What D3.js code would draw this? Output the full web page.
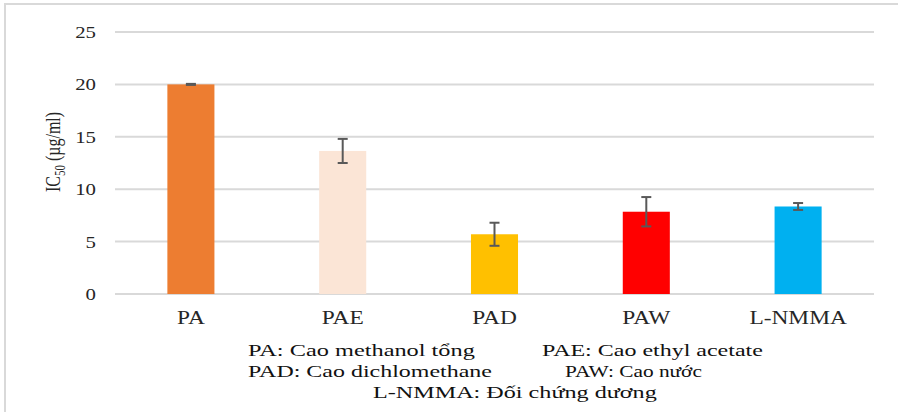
<!DOCTYPE html>
<html>
<head>
<meta charset="utf-8">
<script src="https://cdn.jsdelivr.net/npm/d3@7"></script>
<style>
  body { margin: 0; background: #fff; }
</style>
</head>
<body>
<div id="chart"></div>
<script>
// data
const categories = ["PA", "PAE", "PAD", "PAW", "L-NMMA"];
const ic50 = [20.0, 13.65, 5.7, 7.85, 8.35];
const errors = [0.05, 1.15, 1.1, 1.4, 0.33];
const barColors = ["#ed7d31", "#fbe5d6", "#ffc000", "#ff0000", "#00b0f0"];
const yTicks = [0, 5, 10, 15, 20, 25];
const legendLines = [
  ["PA: Cao methanol tổng", "PAE: Cao ethyl acetate"],
  ["PAD: Cao dichlomethane", "PAW: Cao nước"],
  ["L-NMMA:  Đối chứng dương"]
];

const width = 898, height = 412;
const plotLeft = 115, plotRight = 874, plotTop = 32, plotBottom = 294;
const stretch = 1.3;   // text in the picture is widened horizontally
const serif = "'Liberation Serif', 'Times New Roman'";

const svg = d3.select("#chart").append("svg")
  .attr("width", width)
  .attr("height", height)
  .style("font-family", serif);

// outer frame (top + left only are visible)
svg.append("path")
  .attr("d", `M5,${height} V4 H${width}`)
  .attr("fill", "none")
  .attr("stroke", "#d9d9d9")
  .attr("stroke-width", 2);

const x = d3.scaleBand()
  .domain(categories)
  .range([plotLeft, plotRight])
  .paddingInner(0.69)
  .paddingOuter(0.345);

const y = d3.scaleLinear()
  .domain([0, 25])
  .range([plotBottom, plotTop]);

// gridlines
svg.append("g")
  .selectAll("line")
  .data(yTicks)
  .join("line")
  .attr("x1", plotLeft)
  .attr("x2", plotRight)
  .attr("y1", d => y(d))
  .attr("y2", d => y(d))
  .attr("stroke", "#d9d9d9")
  .attr("stroke-width", 2);

// y tick labels
svg.append("g")
  .selectAll("text")
  .data(yTicks)
  .join("text")
  .attr("transform", d => `translate(96,${y(d) + 6}) scale(${stretch},1)`)
  .attr("text-anchor", "end")
  .attr("fill", "#262626")
  .style("font-family", serif)
  .style("font-size", "16px")
  .text(d => d);

// bars
svg.append("g")
  .selectAll("rect")
  .data(categories)
  .join("rect")
  .attr("x", d => x(d))
  .attr("width", x.bandwidth())
  .attr("y", (d, i) => y(ic50[i]))
  .attr("height", (d, i) => y(0) - y(ic50[i]))
  .attr("fill", (d, i) => barColors[i]);

// error bars
const eb = svg.append("g")
  .attr("stroke", "#595959")
  .attr("stroke-width", 2)
  .selectAll("g")
  .data(categories)
  .join("g")
  .attr("transform", d => `translate(${x(d) + x.bandwidth() / 2},0)`);

eb.append("line")
  .attr("y1", (d, i) => y(ic50[i] + errors[i]))
  .attr("y2", (d, i) => y(ic50[i] - errors[i]));
eb.append("line")
  .attr("x1", -5).attr("x2", 5)
  .attr("y1", (d, i) => y(ic50[i] + errors[i]))
  .attr("y2", (d, i) => y(ic50[i] + errors[i]));
eb.append("line")
  .attr("x1", -5).attr("x2", 5)
  .attr("y1", (d, i) => y(ic50[i] - errors[i]))
  .attr("y2", (d, i) => y(ic50[i] - errors[i]));

// category labels
svg.append("g")
  .selectAll("text")
  .data(categories)
  .join("text")
  .attr("transform", d => `translate(${x(d) + x.bandwidth() / 2},324) scale(${stretch},1)`)
  .attr("text-anchor", "middle")
  .attr("fill", "#262626")
  .style("font-family", serif)
  .style("font-size", "18px")
  .text(d => d);

// y axis title
const yt = svg.append("text")
  .attr("transform", `translate(60,152) scale(${stretch},1) rotate(-90)`)
  .attr("text-anchor", "middle")
  .attr("fill", "#262626")
  .style("font-family", serif)
  .style("font-size", "16px");
yt.append("tspan").text("IC");
yt.append("tspan").attr("dy", 4).style("font-size", "11px").text("50");
yt.append("tspan").attr("dy", -4).text(" (µg/ml)");

// legend under the chart, each piece widened to the span it has in the picture
const legendPos = [[248, 542], [248, 565], [373]];
const legendWidths = [[227, 221], [244, 137], [284]];
legendLines.forEach((line, r) => {
  line.forEach((txt, c) => {
    const t = svg.append("text")
      .attr("fill", "#111")
      .style("font-family", serif)
      .style("font-size", "17px")
      .text(txt);
    const k = legendWidths[r][c] / t.node().getComputedTextLength();
    t.attr("transform", `translate(${legendPos[r][c]},${356 + r * 21}) scale(${k},1)`);
  });
});
</script>
</body>
</html>
